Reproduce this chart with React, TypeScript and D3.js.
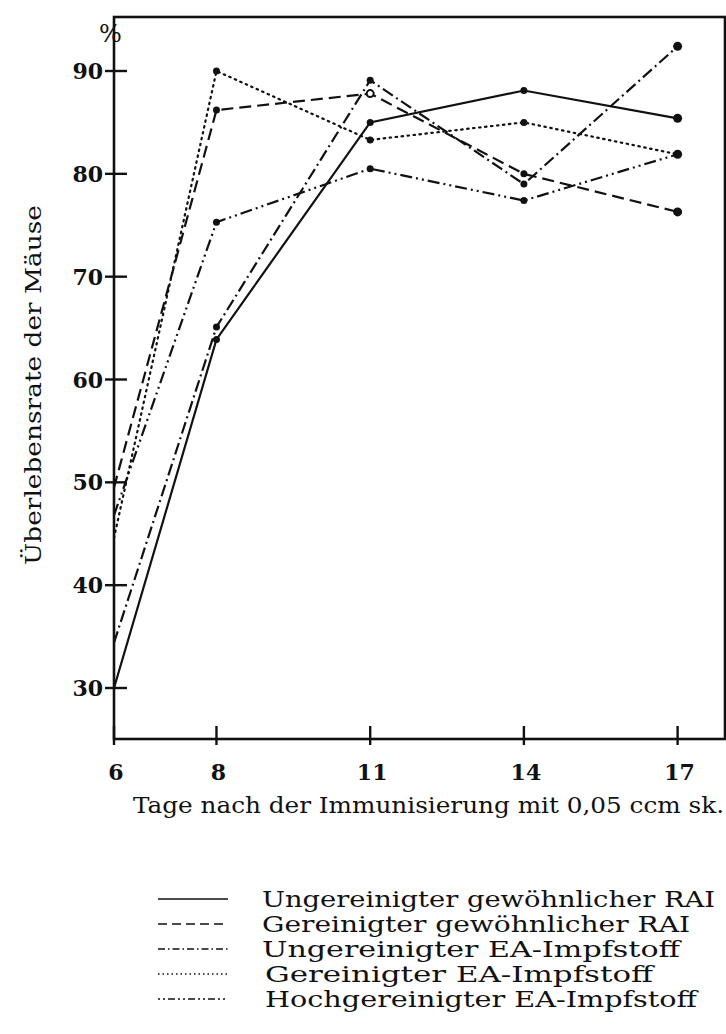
import React, { useEffect } from "react";
import * as d3 from "d3";

const days = [6, 8, 11, 14, 17];
const xTicks = [6, 8, 11, 14, 17];
const yTicks = [30, 40, 50, 60, 70, 80, 90];

const seriesNames = [
  "Ungereinigter gewöhnlicher RAI",
  "Gereinigter gewöhnlicher RAI",
  "Ungereinigter EA-Impfstoff",
  "Gereinigter EA-Impfstoff",
  "Hochgereinigter EA-Impfstoff",
];
const solidValues = [30, 63.9, 85.0, 88.1, 85.4];
const dashedValues = [49.5, 86.2, 87.8, 80.0, 76.3];
const dashDotValues = [34.4, 65.1, 89.1, 79.0, 92.4];
const dottedValues = [44.6, 90.0, 83.3, 85.0, 81.9];
const dashDotDotValues = [46.8, 75.3, 80.5, 77.4, 81.9];

const seriesValues = [solidValues, dashedValues, dashDotValues, dottedValues, dashDotDotValues];
const dashes = ["none", "12,6", "12,4,2,4", "1.5,4.5", "12,4,2,4,2,4"];
const openMarker = [[], [2], [], [], []];
const legendWidths = [453, 428, 418, 388, 432];

const W = 726;
const H = 1034;
const serif = "'DejaVu Serif', 'Liberation Serif', serif";

export default function App() {
  useEffect(() => {
    document.body.style.margin = "0";
  }, []);

  const x = d3.scaleLinear().domain([6, 17]).range([114, 677.6]);
  const y = d3.scaleLinear().domain([30, 90]).range([688, 71]);
  const left = 114, right = 725, top = 17, bottom = 739;

  const line = d3
    .line<number>()
    .x((_, i) => x(days[i]))
    .y((v) => y(v));

  return (
    <svg width={W} height={H} style={{ display: "block", background: "#fff" }}>
      <rect x={left} y={top} width={right - left} height={bottom - top} fill="none" stroke="#111" strokeWidth={2.6} />
      {yTicks.map((t) => (
        <g key={"y" + t}>
          <line x1={left - 9} x2={left + 13} y1={y(t)} y2={y(t)} stroke="#111" strokeWidth={2.4} />
          <text x={103} y={y(t) + 8} textAnchor="end" fontFamily={serif} fontWeight="bold" fontSize={22} fill="#111">
            {t}
          </text>
        </g>
      ))}
      <text x={99} y={42} fontFamily={serif} fontSize={24} fill="#111">%</text>
      {xTicks.map((t) => (
        <g key={"x" + t}>
          <line x1={x(t)} x2={x(t)} y1={bottom - 13} y2={bottom + 6} stroke="#111" strokeWidth={2.4} />
          <text x={x(t) + 2} y={780} textAnchor="middle" fontFamily={serif} fontWeight="bold" fontSize={22} fill="#111">
            {t}
          </text>
        </g>
      ))}
      <text x={133} y={813} fontFamily={serif} fontSize={23} fill="#111" textLength={591} lengthAdjust="spacingAndGlyphs">
        Tage nach der Immunisierung mit 0,05 ccm sk.
      </text>
      <text
        transform={`translate(41,385) rotate(-90)`}
        textAnchor="middle"
        fontFamily={serif}
        fontSize={23}
        fill="#111"
        textLength={360}
        lengthAdjust="spacingAndGlyphs"
      >
        Überlebensrate der Mäuse
      </text>
      {seriesValues.map((vals, si) => (
        <g key={"s" + si}>
          <path
            d={line(vals) || ""}
            fill="none"
            stroke="#111"
            strokeWidth={2.2}
            strokeDasharray={dashes[si]}
            strokeLinecap={si === 3 ? "round" : "butt"}
          />
          {vals.map((v, i) =>
            i === 0 ? null : openMarker[si].includes(i) ? (
              <circle key={i} cx={x(days[i])} cy={y(v)} r={3.5} fill="#fff" stroke="#111" strokeWidth={2} />
            ) : (
              <circle key={i} cx={x(days[i])} cy={y(v)} r={i === 4 && si !== 3 ? 4.5 : 3.5} fill="#111" />
            )
          )}
        </g>
      ))}
      {seriesNames.map((name, i) => {
        const ly = 899 + i * 25;
        return (
          <g key={"l" + i}>
            <line
              x1={158}
              x2={228}
              y1={ly}
              y2={ly}
              stroke="#111"
              strokeWidth={1.6}
              strokeDasharray={i === 1 ? "9,5" : i === 2 ? "7,3,1.5,3" : i === 3 ? "1.5,3" : i === 4 ? "2,3,2,3,7,3" : "none"}
            />
            <text
              x={i >= 3 ? 265 : 262}
              y={ly + 8}
              fontFamily={serif}
              fontSize={22.5}
              fill="#111"
              textLength={legendWidths[i]}
              lengthAdjust="spacingAndGlyphs"
            >
              {name}
            </text>
          </g>
        );
      })}
    </svg>
  );
}
